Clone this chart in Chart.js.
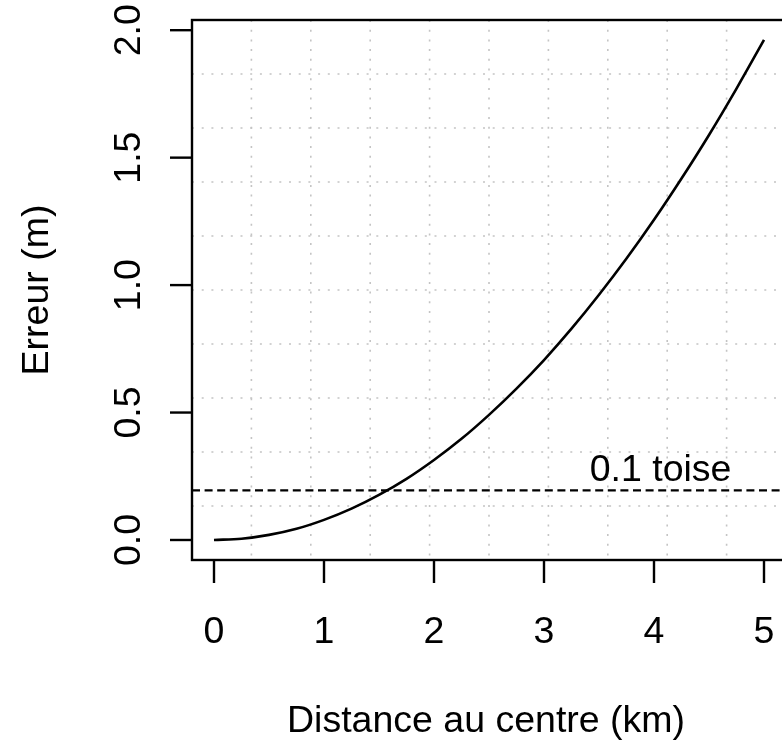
<!DOCTYPE html>
<html>
<head>
<meta charset="utf-8">
<script src="https://cdn.jsdelivr.net/npm/chart.js@4"></script>
<style>
  html, body { margin: 0; padding: 0; background: #fff; overflow: hidden; }
  canvas { display: block; }
</style>
</head>
<body>
<canvas id="erreurChart" width="800" height="742" style="width:800px;height:742px"></canvas>
<script>
// distance au centre (km) vs erreur (m)
const distances = [0, 0.25, 0.5, 0.75, 1, 1.25, 1.5, 1.75, 2, 2.25, 2.5, 2.75, 3, 3.25, 3.5, 3.75, 4, 4.25, 4.5, 4.75, 5];
const erreurs = [0, 0.005, 0.020, 0.044, 0.079, 0.123, 0.177, 0.240, 0.314, 0.397, 0.491, 0.594, 0.706, 0.829, 0.962, 1.104, 1.256, 1.418, 1.589, 1.771, 1.962];

const toiseLevel = 0.195;          // 0.1 toise in metres
const toiseLabel = '0.1 toise';
const toiseLabelAt = [4.06, 0.231]; // x, y of label baseline centre

const xTicks = [0, 1, 2, 3, 4, 5];
const xTickLabels = ['0', '1', '2', '3', '4', '5'];
const yTicks = [0, 0.5, 1, 1.5, 2];
const yTickLabels = ['0.0', '0.5', '1.0', '1.5', '2.0'];

const xTitle = 'Distance au centre (km)';
const yTitle = 'Erreur (m)';

const FONT = '37.5px "Liberation Sans", Arial, sans-serif';

const rAxes = {
    id: 'rAxes',
    beforeDatasetsDraw(chart) {
        const { ctx, chartArea: a } = chart;
        ctx.save();
        ctx.strokeStyle = '#c4c4c4';
        ctx.lineWidth = 1.6;
        ctx.setLineDash([2, 7.7]);
        // grid(): 10 equal cells across the plot region
        for (let k = 1; k < 10; k++) {
            const x = a.left + (a.right - a.left) * k / 10;
            ctx.beginPath(); ctx.moveTo(x, a.top); ctx.lineTo(x, a.bottom); ctx.stroke();
            const y = a.top + (a.bottom - a.top) * k / 10;
            ctx.beginPath(); ctx.moveTo(a.left, y); ctx.lineTo(a.right, y); ctx.stroke();
        }
        ctx.restore();
    },
    afterDatasetsDraw(chart) {
        const { ctx, chartArea: a, scales } = chart;
        const xs = scales.x, ys = scales.y;
        ctx.save();
        ctx.strokeStyle = '#000';
        ctx.fillStyle = '#000';
        ctx.lineWidth = 2.4;
        ctx.setLineDash([]);
        ctx.strokeRect(a.left, a.top, a.right - a.left, a.bottom - a.top);

        ctx.font = FONT;
        // x axis
        ctx.textAlign = 'center';
        ctx.textBaseline = 'alphabetic';
        xTicks.forEach((v, i) => {
            const px = xs.getPixelForValue(v);
            ctx.beginPath(); ctx.moveTo(px, a.bottom); ctx.lineTo(px, a.bottom + 23); ctx.stroke();
            ctx.fillText(xTickLabels[i], px, 643);
        });
        ctx.fillText(xTitle, (a.left + a.right) / 2 - 3, 732);

        // y axis
        yTicks.forEach((v, i) => {
            const py = ys.getPixelForValue(v);
            ctx.beginPath(); ctx.moveTo(a.left, py); ctx.lineTo(a.left - 22, py); ctx.stroke();
            ctx.save();
            ctx.translate(140, py);
            ctx.rotate(-Math.PI / 2);
            ctx.fillText(yTickLabels[i], 0, 0);
            ctx.restore();
        });
        ctx.save();
        ctx.translate(48, (a.top + a.bottom) / 2);
        ctx.rotate(-Math.PI / 2);
        ctx.fillText(yTitle, 0, 0);
        ctx.restore();

        // label over the dashed line
        ctx.fillText(toiseLabel, xs.getPixelForValue(toiseLabelAt[0]), ys.getPixelForValue(toiseLabelAt[1]));
        ctx.restore();
    }
};

new Chart(document.getElementById('erreurChart'), {
    type: 'line',
    data: {
        datasets: [
            {
                data: distances.map((d, i) => ({ x: d, y: erreurs[i] })),
                borderColor: '#000',
                borderWidth: 2.6,
                pointRadius: 0,
                cubicInterpolationMode: 'monotone'
            },
            {
                data: [{ x: -0.2, y: toiseLevel }, { x: 5.2, y: toiseLevel }],
                borderColor: '#000',
                borderWidth: 2.3,
                borderDash: [8, 4.6],
                pointRadius: 0
            }
        ]
    },
    options: {
        responsive: false,
        devicePixelRatio: 1,
        animation: false,
        layout: { padding: { left: 192, right: 14, top: 20, bottom: 182 } },
        plugins: { legend: { display: false }, tooltip: { enabled: false } },
        scales: {
            x: { type: 'linear', min: -0.2, max: 5.2, display: false },
            y: { type: 'linear', min: -0.0785, max: 2.04, display: false }
        }
    },
    plugins: [rAxes]
});
</script>
</body>
</html>
